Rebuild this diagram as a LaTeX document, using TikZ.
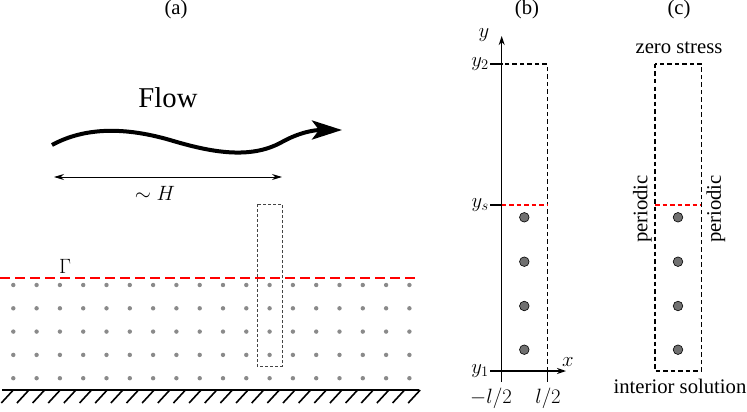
\documentclass[tikz,border=0pt]{standalone}
\usepackage{fix-cm}
\usepackage{fontspec}
\setmainfont{Liberation Serif}
\usetikzlibrary{arrows.meta}
\definecolor{dotgray}{HTML}{8A8A8A}
\definecolor{biggray}{HTML}{707070}
\definecolor{boxgray}{HTML}{444444}
\begin{document}
\begin{tikzpicture}[x=1pt,y=-1pt,
  lbl/.style={inner sep=0pt, font=\fontsize{20.7}{24}\selectfont},
  biglbl/.style={inner sep=0pt, font=\fontsize{28.7}{32}\selectfont},
  smalldot/.style={fill=dotgray, draw=none},
  bigdot/.style={fill=biggray, draw=black, line width=0.6pt},
  boxdash/.style={draw=black, line width=1.2pt, dash pattern=on 4.5pt off 3pt},
  reddash/.style={draw=red, line width=1.2pt, dash pattern=on 4.5pt off 3pt},
  thinarrow/.style={line width=1pt, {Stealth[length=10pt,width=6pt]}-{Stealth[length=10pt,width=6pt]}},
  axisline/.style={line width=1.2pt},
]
\useasboundingbox (0,0) rectangle (747,412);

% ---------- panel (a) ----------
\node[lbl] (la) at (176,10) {(a)};
\node[biglbl] (flow) at (168,98) {Flow};
\coordinate (fs) at (52,145);
\coordinate (fe) at (342,130);
\draw[line width=4pt, -{Stealth[length=30pt,width=19pt,inset=7pt]}]
  (fs) .. controls (85,127) and (125,127) .. (170,140)
       .. controls (210,152) and (250,160) .. (282,142)
       .. controls (300,132) and (315,130) .. (fe);

\coordinate (hl) at (54,177);
\coordinate (hr) at (282,177);
\draw[thinarrow] (hl) -- (hr);
\node[lbl] (H) at (155,193) {$\sim H$};

% dots
\foreach \i in {0,...,17}
  \foreach \j in {0,...,4}
    \fill[smalldot] (13.3+23.3*\i, 285+23.3*\j) circle (2.2pt);

% red interface
\coordinate (g0) at (0,278);
\coordinate (g1) at (417,278);
\draw[red, line width=2.6pt, dash pattern=on 10pt off 5pt] (g0) -- (g1);
\node[lbl] (Gamma) at (65,266) {$\Gamma$};

% dashed selection box
\draw[boxgray, line width=1pt, dash pattern=on 3pt off 2pt] (257,204) rectangle (282,366);

% ground
\coordinate (w0) at (2,390);
\coordinate (w1) at (419,390);
\draw[line width=1.6pt] (w0) -- (w1);
\foreach \k in {0,...,26}
  \draw[line width=1.6pt] (1.3+15.65*\k,403) -- (13.3+15.65*\k,390);

% ---------- panel (b) ----------
\node[lbl] (lb) at (527,10) {(b)};
\draw[boxdash] (501.7,64) rectangle (547.3,371);
\draw[reddash] (501.7,205) -- (547.3,205);
\coordinate (yb) at (501.7,382);
\coordinate (yt) at (501.7,36);
\coordinate (xl) at (490,371);
\coordinate (xr) at (566,371);
\draw[axisline, -{Stealth[length=9pt,width=6pt]}] (yb) -- (yt);
\draw[axisline, -{Stealth[length=9pt,width=6pt]}] (xl) -- (xr);
\draw[axisline] (490,64) -- (501.7,64);
\draw[axisline] (490,205) -- (501.7,205);
\draw[axisline] (547.3,371) -- (547.3,382);
\node[lbl, anchor=east] (y2) at (489,64) {$y_2$};
\node[lbl, anchor=east] (ys) at (489,205) {$y_s$};
\node[lbl, anchor=east] (y1) at (489,371) {$y_1$};
\node[lbl] (ylab) at (484,35) {$y$};
\node[lbl] (xlab) at (568,362) {$x$};
\node[lbl] (ml2) at (491,398) {$-l/2$};
\node[lbl] (pl2) at (548,398) {$l/2$};
\foreach \yy in {217.3,261.7,306,349.7}
  \filldraw[bigdot] (524.3,\yy) circle (4.8pt);

% ---------- panel (c) ----------
\node[lbl] (lc) at (679,10) {(c)};
\draw[boxdash] (655,64) rectangle (701.3,371);
\draw[reddash] (655,205) -- (701.3,205);
\node[lbl] (zs) at (679,48) {zero stress};
\node[lbl] (is) at (680,386) {interior solution};
\node[lbl, rotate=90] (pl) at (642.5,209) {periodic};
\node[lbl, rotate=90] (pr) at (716,209) {periodic};
\foreach \yy in {217.3,261.7,306,349.7}
  \filldraw[bigdot] (678,\yy) circle (4.8pt);
\end{tikzpicture}
\end{document}
